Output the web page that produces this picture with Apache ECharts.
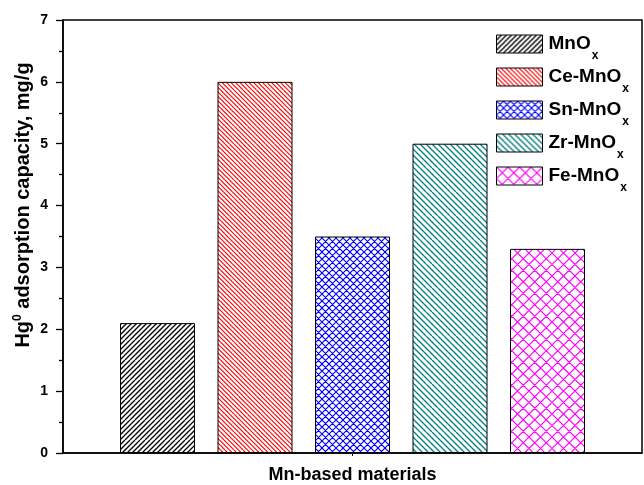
<!DOCTYPE html>
<html>
<head>
<meta charset="utf-8">
<script src="https://cdn.jsdelivr.net/npm/echarts@6/dist/echarts.min.js"></script>
<style>
  html, body { margin: 0; padding: 0; background: #fff; }
  #chart { width: 644px; height: 485px; }
</style>
</head>
<body>
<div id="chart"></div>
<script>
// Hg0 adsorption capacity of Mn-based sorbents
const categories = ['MnOx', 'Ce-MnOx', 'Sn-MnOx', 'Zr-MnOx', 'Fe-MnOx'];
const values = [2.1, 6.0, 3.5, 5.0, 3.3];
const colors = ['#000000', '#ff0000', '#0000ff', '#008080', '#ff00ff'];
// hatch style per material: [period px, direction, line width]
const hatches = [
  [5, 'fwd', 1.3],
  [4.5, 'back', 1.1],
  [7, 'cross', 1.1],
  [6, 'back', 1.3],
  [11.5, 'cross', 1.2]
];

function makeHatch(color, period, dir, lw) {
  const size = Math.round(period * 4);
  const c = document.createElement('canvas');
  c.width = size; c.height = size;
  const ctx = c.getContext('2d');
  ctx.fillStyle = '#fff';
  ctx.fillRect(0, 0, size, size);
  ctx.strokeStyle = color;
  ctx.lineWidth = lw;
  const step = size / Math.round(size / period);
  ctx.beginPath();
  for (let x = -size; x <= size * 2; x += step) {
    if (dir === 'fwd' || dir === 'cross') {
      ctx.moveTo(x, size); ctx.lineTo(x + size, 0);
    }
    if (dir === 'back' || dir === 'cross') {
      ctx.moveTo(x, 0); ctx.lineTo(x + size, size);
    }
  }
  ctx.stroke();
  return { image: c, repeat: 'repeat' };
}

const FONT = 'Liberation Sans, Arial, sans-serif';

const series = categories.map((name, i) => ({
  name: name,
  type: 'bar',
  data: [values[i]],
  barWidth: 75,
  barGap: '30%',
  itemStyle: {
    color: makeHatch(colors[i], hatches[i][0], hatches[i][1], hatches[i][2]),
    borderColor: '#000',
    borderWidth: 1
  },
  emphasis: { disabled: true }
}));

const chart = echarts.init(document.getElementById('chart'), null, { renderer: 'canvas' });
chart.setOption({
  animation: false,
  backgroundColor: '#fff',
  grid: {
    left: 63, right: 2, top: 20, bottom: 32,
    outerBoundsMode: 'none',
    containLabel: false,
    show: true, borderColor: '#000', borderWidth: 1.5, backgroundColor: 'transparent'
  },
  legend: {
    orient: 'vertical',
    left: 496, top: 26,
    padding: 0,
    itemWidth: 46, itemHeight: 18,
    itemGap: -3,
    icon: 'rect',
    itemStyle: { borderColor: '#000', borderWidth: 1 },
    selectedMode: false,
    data: categories,
    formatter: function (name) {
      return '{m|' + name.slice(0, -1) + '}{s|' + name.slice(-1) + '}';
    },
    textStyle: {
      rich: {
        m: { fontFamily: FONT, fontWeight: 'bold', fontSize: 19, color: '#000',
             lineHeight: 36, verticalAlign: 'middle', padding: [0, 0, 0, 1] },
        s: { fontFamily: FONT, fontWeight: 'bold', fontSize: 12, color: '#000',
             lineHeight: 12, verticalAlign: 'top', padding: [24, 0, 0, 1] }
      }
    }
  },
  xAxis: {
    type: 'category',
    data: ['Mn-based materials'],
    name: 'Mn-based materials',
    nameLocation: 'middle',
    nameGap: 13,
    nameTextStyle: { fontFamily: FONT, fontWeight: 'bold', fontSize: 18, color: '#000', verticalAlign: 'top' },
    axisLine: { lineStyle: { color: '#000', width: 1.5 } },
    axisTick: { show: true, alignWithLabel: true, length: 3, lineStyle: { color: '#000', width: 1 } },
    axisLabel: { show: false },
    splitLine: { show: false }
  },
  yAxis: {
    type: 'value',
    min: 0, max: 7, interval: 1,
    axisLine: { show: true, lineStyle: { color: '#000', width: 1.5 } },
    axisTick: { show: true, length: 7, lineStyle: { color: '#000', width: 1.3 } },
    minorTick: { show: true, splitNumber: 2, length: 4, lineStyle: { color: '#000', width: 1.3 } },
    axisLabel: { margin: 15, fontFamily: FONT, fontWeight: 'bold', fontSize: 14, color: '#000' },
    splitLine: { show: false }
  },
  graphic: [{
    type: 'text',
    x: 23, y: 205,
    rotation: Math.PI / 2,
    silent: true,
    style: {
      text: '{a|Hg}{s|0}{a| adsorption capacity, mg/g}',
      align: 'center',
      verticalAlign: 'middle',
      rich: {
        a: { fontFamily: FONT, fontWeight: 'bold', fontSize: 20, fill: '#000', lineHeight: 22, verticalAlign: 'middle' },
        s: { fontFamily: FONT, fontWeight: 'bold', fontSize: 12, fill: '#000', lineHeight: 12, verticalAlign: 'top' }
      }
    }
  }],
  series: series
});
</script>
</body>
</html>
